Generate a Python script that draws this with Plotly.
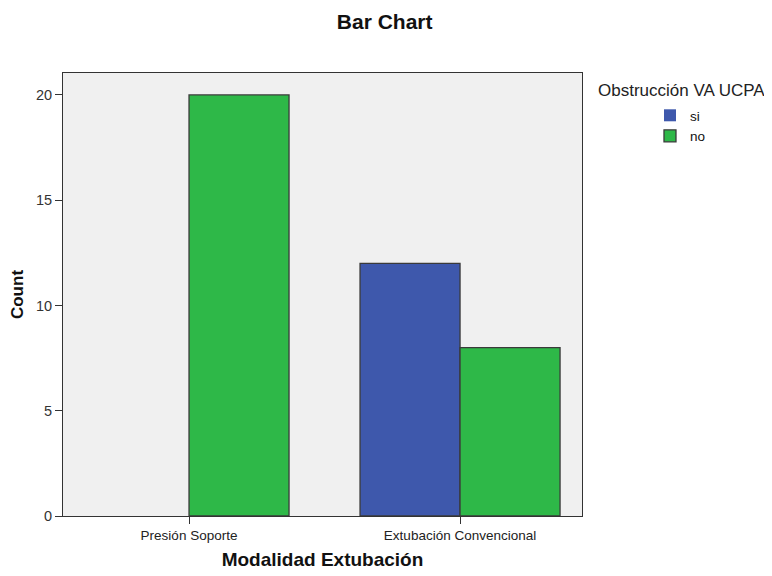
import plotly.graph_objects as go

categories = ["Presión Soporte", "Extubación Convencional"]
si_counts = [0, 12]
no_counts = [20, 8]
y_ticks = [0, 5, 10, 15, 20]

OUTLINE = "#3a3a3a"
fig = go.Figure()
fig.add_trace(go.Bar(name="si", x=categories, y=si_counts,
                     marker=dict(color="#3E58AC",
                                 line=dict(color=OUTLINE, width=[0 if v == 0 else 1.3 for v in si_counts]))))
fig.add_trace(go.Bar(name="no", x=categories, y=no_counts,
                     marker=dict(color="#2EB848",
                                 line=dict(color=OUTLINE, width=[0 if v == 0 else 1.3 for v in no_counts]))))

fig.update_layout(
    width=764, height=568,
    paper_bgcolor="white", plot_bgcolor="#F0F0F0",
    margin=dict(l=55, r=190, t=65, b=60),
    barmode="group", bargap=0.262, bargroupgap=0,
    font=dict(family="Arial, Liberation Sans, sans-serif", color="#222222", size=14),
    title=dict(text="<b>Bar Chart</b>", xref="container", x=0.493, xanchor="center",
               yref="container", y=1 - 14 / 568, yanchor="middle",
               font=dict(size=21, color="#111111")),
    showlegend=True,
    legend=dict(x=1.131, xanchor="left", y=0.939, yanchor="top", bgcolor="rgba(0,0,0,0)",
                font=dict(size=13.5, color="#111111"), itemwidth=30, tracegroupgap=0),
    annotations=[dict(text="Obstrucción VA UCPA", xref="paper", yref="paper",
                      x=1.027, y=0.9616, xanchor="left", yanchor="middle", showarrow=False,
                      font=dict(size=17, color="#222222"))],
)
fig.update_xaxes(
    range=[-0.465, 1.45], showline=True, linecolor="#333333", linewidth=1, mirror=True,
    ticks="outside", ticklen=7, tickcolor="#333333", tickfont=dict(size=13.5, color="#222222"),
    title=dict(text="<b>Modalidad Extubación</b>", font=dict(size=19, color="#111111"), standoff=10),
    showgrid=False, automargin=False,
)
fig.update_yaxes(
    range=[0, 21.04], tickvals=y_ticks, showline=True, linecolor="#333333", linewidth=1, mirror=True,
    ticks="outside", ticklen=7, tickcolor="#333333", tickfont=dict(size=14.5, color="#333333"),
    title=dict(text="<b>Count</b>", font=dict(size=17, color="#111111"), standoff=10),
    showgrid=False, zeroline=False, automargin=False,
)
fig.write_html("out.html")
